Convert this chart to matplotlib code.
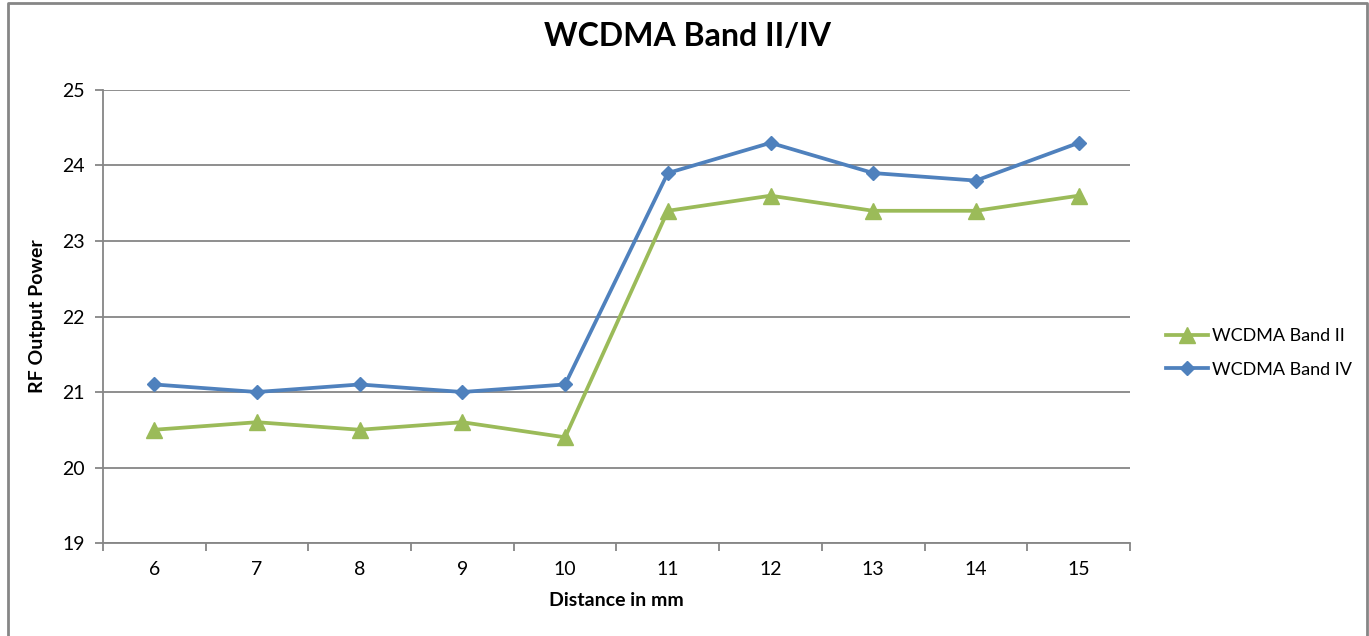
import matplotlib.pyplot as plt
from matplotlib.lines import Line2D

plt.rcParams['font.family'] = ['Lato', 'DejaVu Sans']

distance = ['6', '7', '8', '9', '10', '11', '12', '13', '14', '15']
band_ii = [20.5, 20.6, 20.5, 20.6, 20.4, 23.4, 23.6, 23.4, 23.4, 23.6]
band_iv = [21.1, 21.0, 21.1, 21.0, 21.1, 23.9, 24.3, 23.9, 23.8, 24.3]

GRID = '#868686'

fig = plt.figure(figsize=(13.69, 6.36), dpi=100)
ax = fig.add_axes([0.0752, 0.1462, 0.7502, 0.7123])

x = list(range(len(distance)))
ax.plot(x, band_ii, color='#9BBB59', lw=2.7, marker='^', ms=11, label='WCDMA Band II')
ax.plot(x, band_iv, color='#4F81BD', lw=2.7, marker='D', ms=7.5, label='WCDMA Band IV')

ax.set_xlim(-0.5, len(distance) - 0.5)
ax.set_ylim(19, 25)
ax.set_yticks(range(19, 26))
ax.yaxis.grid(True, color=GRID, lw=1.3)
ax.set_axisbelow(True)

# category axis: ticks between categories, labels centred
ax.set_xticks([i - 0.5 for i in range(len(distance) + 1)])
ax.set_xticklabels([])
ax.set_xticks(x, minor=True)
ax.set_xticklabels(distance, minor=True)
ax.tick_params(axis='x', which='major', length=6, width=1.3, color=GRID)
ax.tick_params(axis='x', which='minor', length=0, pad=13, labelsize=14)
ax.tick_params(axis='y', length=6, width=1.3, color=GRID, pad=7, labelsize=14)

for s in ['top', 'right']:
    ax.spines[s].set_visible(False)
for s in ['left', 'bottom']:
    ax.spines[s].set_color(GRID)
    ax.spines[s].set_linewidth(1.3)

ax.set_xlabel('Distance in mm', fontsize=14, fontweight='bold', labelpad=10)
ax.set_ylabel('RF Output Power', fontsize=14, fontweight='bold', labelpad=12)
fig.suptitle('WCDMA Band II/IV', x=0.502, y=0.965, fontsize=23, fontweight='bold')

fig.legend(loc='center left', bbox_to_anchor=(0.840, 0.445), frameon=False,
           fontsize=13, handlelength=2.3, handletextpad=0.25, labelspacing=0.95)

# chart border (open at the bottom)
fig.add_artist(Line2D([0.006, 0.006, 0.9985, 0.9985], [0.0, 0.9945, 0.9945, 0.0],
                      transform=fig.transFigure, color=GRID, lw=2))

fig.savefig('out.png', dpi=100)
